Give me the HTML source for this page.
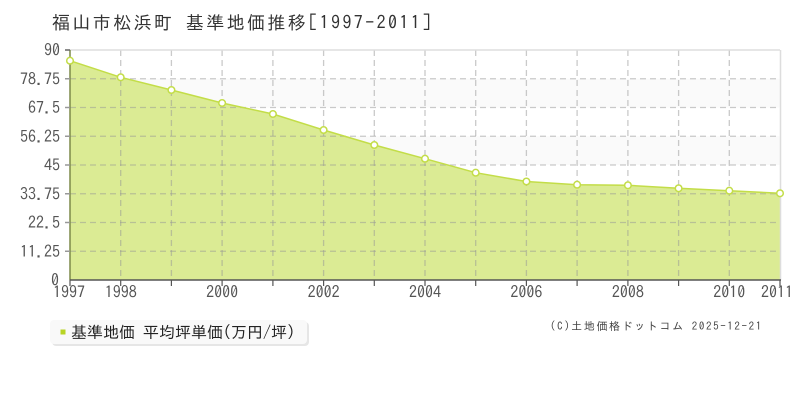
<!DOCTYPE html>
<html><head><meta charset="utf-8"><style>
html,body{margin:0;padding:0;background:#fff;}
svg{display:block;}
</style></head><body>
<svg width="800" height="400" viewBox="0 0 800 400" xmlns="http://www.w3.org/2000/svg">
<rect x="0" y="0" width="800" height="400" fill="#fff"/>
<text x="52" y="29" font-family="'IPAGothic','Noto Sans CJK JP',sans-serif" font-size="18" letter-spacing="2.4" fill="#333">福山市松浜町 基準地価推移[1997-2011]</text>
<!-- bands -->
<rect x="70" y="78.75" width="710" height="28.75" fill="#fafafa"/>
<rect x="70" y="136.25" width="710" height="28.75" fill="#fafafa"/>
<rect x="70" y="193.75" width="710" height="28.75" fill="#fafafa"/>
<rect x="70" y="251.25" width="710" height="28.75" fill="#fafafa"/>
<!-- area -->
<polygon fill="#dbeb94" points="70,280 70,60.7 120.7,77.3 171.4,90 222.1,103 272.9,114 323.6,130 374.3,145 425,158.7 475.7,172.7 526.4,181.5 577.1,184.7 627.9,185.3 678.6,188.3 729.3,190.7 780,193.3 780,280"/>
<!-- grid -->
<g stroke="rgba(150,150,150,0.5)" stroke-width="1.3" stroke-dasharray="6,4" fill="none">
<line x1="70" y1="78.75" x2="780" y2="78.75"/>
<line x1="70" y1="107.5" x2="780" y2="107.5"/>
<line x1="70" y1="136.25" x2="780" y2="136.25"/>
<line x1="70" y1="165" x2="780" y2="165"/>
<line x1="70" y1="193.75" x2="780" y2="193.75"/>
<line x1="70" y1="222.5" x2="780" y2="222.5"/>
<line x1="70" y1="251.25" x2="780" y2="251.25"/>
<line x1="120.7" y1="50" x2="120.7" y2="280"/>
<line x1="171.4" y1="50" x2="171.4" y2="280"/>
<line x1="222.1" y1="50" x2="222.1" y2="280"/>
<line x1="272.9" y1="50" x2="272.9" y2="280"/>
<line x1="323.6" y1="50" x2="323.6" y2="280"/>
<line x1="374.3" y1="50" x2="374.3" y2="280"/>
<line x1="425" y1="50" x2="425" y2="280"/>
<line x1="475.7" y1="50" x2="475.7" y2="280"/>
<line x1="526.4" y1="50" x2="526.4" y2="280"/>
<line x1="577.1" y1="50" x2="577.1" y2="280"/>
<line x1="627.9" y1="50" x2="627.9" y2="280"/>
<line x1="678.6" y1="50" x2="678.6" y2="280"/>
<line x1="729.3" y1="50" x2="729.3" y2="280"/>
</g>
<line x1="70" y1="50" x2="780" y2="50" stroke="#ddd" stroke-width="1.5"/>
<line x1="780.5" y1="50" x2="780.5" y2="280" stroke="#ddd" stroke-width="1.5"/>
<!-- series line -->
<polyline fill="none" stroke="#c3dd48" stroke-width="1.5" points="70,60.7 120.7,77.3 171.4,90 222.1,103 272.9,114 323.6,130 374.3,145 425,158.7 475.7,172.7 526.4,181.5 577.1,184.7 627.9,185.3 678.6,188.3 729.3,190.7 780,193.3"/>
<!-- axes -->
<line x1="70" y1="50" x2="70" y2="280" stroke="#7d8a4a" stroke-width="1.5"/>
<line x1="70" y1="280" x2="781" y2="280" stroke="#555" stroke-width="1.5"/>
<g stroke="#999" stroke-width="1.5">
<line x1="65" y1="50" x2="70" y2="50" stroke="#666"/>
<line x1="65" y1="78.75" x2="70" y2="78.75"/>
<line x1="65" y1="107.5" x2="70" y2="107.5"/>
<line x1="65" y1="136.25" x2="70" y2="136.25"/>
<line x1="65" y1="165" x2="70" y2="165"/>
<line x1="65" y1="193.75" x2="70" y2="193.75"/>
<line x1="65" y1="222.5" x2="70" y2="222.5"/>
<line x1="65" y1="251.25" x2="70" y2="251.25"/>
</g>
<g stroke="#555" stroke-width="1.2">
<line x1="70" y1="280" x2="70" y2="286"/>
<line x1="120.7" y1="280" x2="120.7" y2="286"/>
<line x1="171.4" y1="280" x2="171.4" y2="286"/>
<line x1="222.1" y1="280" x2="222.1" y2="286"/>
<line x1="272.9" y1="280" x2="272.9" y2="286"/>
<line x1="323.6" y1="280" x2="323.6" y2="286"/>
<line x1="374.3" y1="280" x2="374.3" y2="286"/>
<line x1="425" y1="280" x2="425" y2="286"/>
<line x1="475.7" y1="280" x2="475.7" y2="286"/>
<line x1="526.4" y1="280" x2="526.4" y2="286"/>
<line x1="577.1" y1="280" x2="577.1" y2="286"/>
<line x1="627.9" y1="280" x2="627.9" y2="286"/>
<line x1="678.6" y1="280" x2="678.6" y2="286"/>
<line x1="729.3" y1="280" x2="729.3" y2="286"/>
<line x1="780" y1="280" x2="780" y2="286"/>
</g>
<!-- markers -->
<g fill="#fff" stroke="#c3dd48" stroke-width="1.5">
<circle cx="70" cy="60.7" r="3.3"/>
<circle cx="120.7" cy="77.3" r="3.3"/>
<circle cx="171.4" cy="90" r="3.3"/>
<circle cx="222.1" cy="103" r="3.3"/>
<circle cx="272.9" cy="114" r="3.3"/>
<circle cx="323.6" cy="130" r="3.3"/>
<circle cx="374.3" cy="145" r="3.3"/>
<circle cx="425" cy="158.7" r="3.3"/>
<circle cx="475.7" cy="172.7" r="3.3"/>
<circle cx="526.4" cy="181.5" r="3.3"/>
<circle cx="577.1" cy="184.7" r="3.3"/>
<circle cx="627.9" cy="185.3" r="3.3"/>
<circle cx="678.6" cy="188.3" r="3.3"/>
<circle cx="729.3" cy="190.7" r="3.3"/>
<circle cx="780" cy="193.3" r="3.3"/>
</g>
<!-- y labels -->
<g font-family="'IPAGothic','Liberation Sans',sans-serif" font-size="16" fill="#555" text-anchor="end">
<text x="60" y="56">90</text>
<text x="60" y="84.75">78.75</text>
<text x="60" y="113.5">67.5</text>
<text x="60" y="142.25">56.25</text>
<text x="60" y="171">45</text>
<text x="60" y="199.75">33.75</text>
<text x="60" y="228.5">22.5</text>
<text x="60" y="257.25">11.25</text>
<text x="59" y="286">0</text>
</g>
<!-- x labels -->
<g font-family="'IPAGothic','Liberation Sans',sans-serif" font-size="16" fill="#555" text-anchor="middle">
<text x="69" y="298">1997</text>
<text x="120.7" y="298">1998</text>
<text x="222.1" y="298">2000</text>
<text x="323.6" y="298">2002</text>
<text x="425" y="298">2004</text>
<text x="526.4" y="298">2006</text>
<text x="627.9" y="298">2008</text>
<text x="729.3" y="298">2010</text>
<text x="777" y="298">2011</text>
</g>
<!-- legend -->
<rect x="52" y="322" width="257" height="24" rx="4" fill="#e6e6e6"/>
<rect x="50" y="320" width="257" height="24" rx="4" fill="#f9f9f9"/>
<rect x="60.5" y="329.5" width="5" height="5" fill="#b8d424"/>
<text x="71" y="338" font-family="'IPAGothic','Noto Sans CJK JP',sans-serif" font-size="16" fill="#222">基準地価 平均坪単価(万円/坪)</text>
<!-- copyright -->
<text x="550" y="330" font-family="'IPAGothic','Noto Sans CJK JP',sans-serif" font-size="11" letter-spacing="1.6" fill="#444">(C)土地価格ドットコム 2025-12-21</text>
</svg>
</body></html>
